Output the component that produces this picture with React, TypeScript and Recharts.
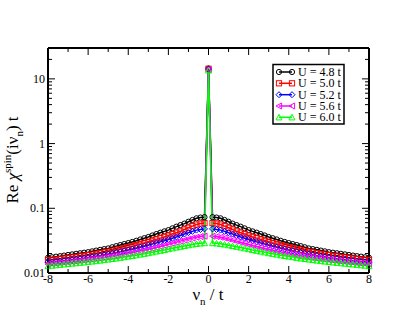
import React from 'react'
import { LineChart, Line, XAxis, YAxis } from 'recharts'

// positive bosonic frequencies nu_n / t (curve is symmetric in nu)
const FREQ = [
  0.2, 0.4, 0.6, 0.8, 1.0, 1.2, 1.4, 1.6, 1.8, 2.0,
  2.2, 2.4, 2.6, 2.8, 3.0, 3.2, 3.4, 3.6, 3.8, 4.0,
  4.2, 4.4, 4.6, 4.8, 5.0, 5.2, 5.4, 5.6, 5.8, 6.0,
  6.2, 6.4, 6.6, 6.8, 7.0, 7.2, 7.4, 7.6, 7.8, 8.0,
]

// value at nu = 0 for each U
const PEAK = [14.5, 14.3, 14.1, 13.9, 13.5]

const U48 = [
  0.073, 0.072, 0.070, 0.066, 0.062, 0.058, 0.055, 0.052, 0.049, 0.046,
  0.044, 0.042, 0.040, 0.038, 0.036, 0.0345, 0.033, 0.0315, 0.0302, 0.029,
  0.028, 0.027, 0.026, 0.025, 0.024, 0.0234, 0.0228, 0.0222, 0.0216, 0.021,
  0.0206, 0.0202, 0.0198, 0.0194, 0.019, 0.0186, 0.0182, 0.0179, 0.0175, 0.0172,
]
const U50 = [
  0.059, 0.058, 0.056, 0.053, 0.050, 0.047, 0.044, 0.042, 0.040, 0.038,
  0.0362, 0.0346, 0.0331, 0.0317, 0.0304, 0.0292, 0.0281, 0.027, 0.026, 0.0251,
  0.0243, 0.0235, 0.0228, 0.0221, 0.0214, 0.0208, 0.0203, 0.0198, 0.0193, 0.0189,
  0.0185, 0.0181, 0.0177, 0.0174, 0.0171, 0.0168, 0.0165, 0.0162, 0.016, 0.0158,
]
const U52 = [
  0.048, 0.047, 0.046, 0.044, 0.042, 0.040, 0.038, 0.036, 0.0345, 0.033,
  0.0316, 0.0303, 0.0291, 0.028, 0.0269, 0.0259, 0.025, 0.0241, 0.0233, 0.0226,
  0.0219, 0.0212, 0.0206, 0.02, 0.0195, 0.019, 0.0185, 0.0181, 0.0177, 0.0173,
  0.0169, 0.0166, 0.0163, 0.016, 0.0157, 0.0155, 0.0153, 0.0151, 0.0149, 0.0147,
]
const U56 = [
  0.037, 0.0365, 0.0357, 0.0347, 0.0335, 0.0323, 0.0311, 0.0299, 0.0288, 0.0277,
  0.0267, 0.0257, 0.0248, 0.024, 0.0232, 0.0225, 0.0218, 0.0212, 0.0206, 0.02,
  0.0195, 0.019, 0.0185, 0.0181, 0.0177, 0.0173, 0.0169, 0.0166, 0.0163, 0.016,
  0.0157, 0.0154, 0.0151, 0.0149, 0.0147, 0.0145, 0.0143, 0.0141, 0.0139, 0.0137,
]
const U60 = [
  0.029, 0.0287, 0.0282, 0.0276, 0.0269, 0.0262, 0.0255, 0.0248, 0.0241, 0.0234,
  0.0227, 0.0221, 0.0215, 0.0209, 0.0203, 0.0198, 0.0193, 0.0188, 0.0184, 0.018,
  0.0176, 0.0172, 0.0168, 0.0165, 0.0162, 0.0159, 0.0156, 0.0153, 0.0151, 0.0149,
  0.0146, 0.0144, 0.0142, 0.014, 0.0138, 0.0136, 0.0134, 0.0132, 0.013, 0.0128,
]

const X_TICKS = [-8, -7, -6, -5, -4, -3, -2, -1, 0, 1, 2, 3, 4, 5, 6, 7, 8]
const Y_MAJOR = [0.01, 0.1, 1, 10]
const Y_TICKS = Y_MAJOR.flatMap(d => [1, 2, 3, 4, 5, 6, 7, 8, 9].map(m => +(d * m).toPrecision(3))).filter(v => v <= 30)

const SERIES = [
  { key: 'u48', name: 'U = 4.8 t', color: '#000000', shape: 'circle', values: U48 },
  { key: 'u50', name: 'U = 5.0 t', color: '#ff0000', shape: 'square', values: U50 },
  { key: 'u52', name: 'U = 5.2 t', color: '#0000ff', shape: 'diamond', values: U52 },
  { key: 'u56', name: 'U = 5.6 t', color: '#ff00ff', shape: 'left', values: U56 },
  { key: 'u60', name: 'U = 6.0 t', color: '#00ff00', shape: 'up', values: U60 },
]

const FONT = '"Liberation Serif", "Times New Roman", serif'

const data: Record<string, number>[] = []
for (let i = FREQ.length - 1; i >= 0; i--) {
  const row: Record<string, number> = { nu: -FREQ[i] }
  SERIES.forEach(s => { row[s.key] = s.values[i] })
  data.push(row)
}
const zero: Record<string, number> = { nu: 0 }
SERIES.forEach((s, j) => { zero[s.key] = PEAK[j] })
data.push(zero)
FREQ.forEach((f, i) => {
  const row: Record<string, number> = { nu: f }
  SERIES.forEach(s => { row[s.key] = s.values[i] })
  data.push(row)
})

function Marker({ cx, cy, shape, color }: { cx: number; cy: number; shape: string; color: string }) {
  if (cx == null || cy == null) return null
  const common = { fill: 'none', stroke: color, strokeWidth: 1 }
  const r = 2.6
  if (shape === 'circle') return <circle cx={cx} cy={cy} r={r} {...common} />
  if (shape === 'square') return <rect x={cx - r} y={cy - r} width={2 * r} height={2 * r} {...common} />
  if (shape === 'diamond')
    return <polygon points={`${cx},${cy - 3} ${cx + 3},${cy} ${cx},${cy + 3} ${cx - 3},${cy}`} {...common} />
  if (shape === 'left')
    return <polygon points={`${cx - 3},${cy} ${cx + 2.6},${cy - 3} ${cx + 2.6},${cy + 3}`} {...common} />
  return <polygon points={`${cx},${cy - 3} ${cx + 3},${cy + 2.6} ${cx - 3},${cy + 2.6}`} {...common} />
}

const isMajorY = (v: number) => Math.abs(Math.log10(v) - Math.round(Math.log10(v))) < 1e-6

function BottomTick({ x, y, payload }: any) {
  const major = payload.value % 2 === 0
  return (
    <g>
      <line x1={x} y1={y} x2={x} y2={y - (major ? 7 : 4)} stroke="#000" />
      {major && (
        <text x={x} y={y + 10} textAnchor="middle" fontSize={12} fontFamily={FONT} fill="#000">
          {payload.value}
        </text>
      )}
    </g>
  )
}

function TopTick({ x, y, payload }: any) {
  const major = payload.value % 2 === 0
  return <line x1={x} y1={y} x2={x} y2={y + (major ? 7 : 4)} stroke="#000" />
}

function LeftTick({ x, y, payload }: any) {
  const major = isMajorY(payload.value)
  return (
    <g>
      <line x1={x} y1={y} x2={x + (major ? 7 : 4)} y2={y} stroke="#000" />
      {major && (
        <text x={x - 3} y={y + 4} textAnchor="end" fontSize={12} fontFamily={FONT} fill="#000">
          {String(payload.value)}
        </text>
      )}
    </g>
  )
}

function RightTick({ x, y, payload }: any) {
  const major = isMajorY(payload.value)
  return <line x1={x} y1={y} x2={x - (major ? 7 : 4)} y2={y} stroke="#000" />
}

function Overlay() {
  const rowY = [72, 83.3, 94.7, 106, 117.3]
  return (
    <svg width={415} height={321} style={{ position: 'absolute', left: 0, top: 0, pointerEvents: 'none' }}>
      <rect x={273} y={64.5} width={71} height={59.5} fill="#fff" stroke="#000" strokeWidth={1.5} />
      {SERIES.map((s, i) => (
        <g key={s.key}>
          <line x1={279} y1={rowY[i]} x2={292} y2={rowY[i]} stroke={s.color} strokeWidth={1.5} />
          <Marker cx={279} cy={rowY[i]} shape={s.shape} color={s.color} />
          <Marker cx={292} cy={rowY[i]} shape={s.shape} color={s.color} />
          <text x={298} y={rowY[i] + 4} fontSize={12} fontFamily={FONT} fill="#000">
            {s.name}
          </text>
        </g>
      ))}
      <text x={208} y={300} textAnchor="middle" fontSize={17} fontFamily={FONT} fill="#000">
        ν<tspan dy={5} fontSize={11}>n</tspan>
        <tspan dy={-5}> / t</tspan>
      </text>
      <text
        transform="translate(18,160) rotate(-90)"
        textAnchor="middle"
        fontSize={17}
        fontFamily={FONT}
        fill="#000"
      >
        Re <tspan fontStyle="italic">χ</tspan>
        <tspan dy={-7} fontSize={11}>spin</tspan>
        <tspan dy={7}>(iν</tspan>
        <tspan dy={5} fontSize={11}>n</tspan>
        <tspan dy={-5}>) t</tspan>
      </text>
    </svg>
  )
}

export default function App() {
  return (
    <div style={{ position: 'absolute', left: 0, top: 0, width: 415, height: 321, background: '#fff' }}>
      <LineChart width={415} height={321} data={data} margin={{ top: 47, right: 45, bottom: 18, left: 8 }}>
        <XAxis
          dataKey="nu"
          type="number"
          domain={[-8, 8]}
          ticks={X_TICKS}
          interval={0}
          tickSize={0}
          tickMargin={0}
          tickLine={false}
          tick={BottomTick}
          height={30}
          axisLine={{ stroke: '#000', strokeWidth: 2 }}
        />
        <XAxis
          xAxisId="top"
          orientation="top"
          dataKey="nu"
          type="number"
          domain={[-8, 8]}
          ticks={X_TICKS}
          interval={0}
          tickSize={0}
          tickMargin={0}
          tickLine={false}
          tick={TopTick}
          height={1}
          axisLine={{ stroke: '#000', strokeWidth: 2 }}
        />
        <YAxis
          type="number"
          scale="log"
          domain={[0.01, 30]}
          allowDataOverflow
          ticks={Y_TICKS}
          interval={0}
          tickSize={0}
          tickMargin={0}
          tickLine={false}
          tick={LeftTick}
          width={40}
          axisLine={{ stroke: '#000', strokeWidth: 2 }}
        />
        <YAxis
          yAxisId="right"
          orientation="right"
          type="number"
          scale="log"
          domain={[0.01, 30]}
          allowDataOverflow
          ticks={Y_TICKS}
          interval={0}
          tickSize={0}
          tickMargin={0}
          tickLine={false}
          tick={RightTick}
          width={1}
          axisLine={{ stroke: '#000', strokeWidth: 2 }}
        />
        {SERIES.map(s => (
          <Line
            key={s.key}
            dataKey={s.key}
            type="linear"
            stroke={s.color}
            strokeWidth={1.5}
            isAnimationActive={false}
            dot={(p: any) => (
              <Marker key={`${s.key}-${p.index}`} cx={p.cx} cy={p.cy} shape={s.shape} color={s.color} />
            )}
            activeDot={false}
          />
        ))}
      </LineChart>
      <Overlay />
    </div>
  )
}
